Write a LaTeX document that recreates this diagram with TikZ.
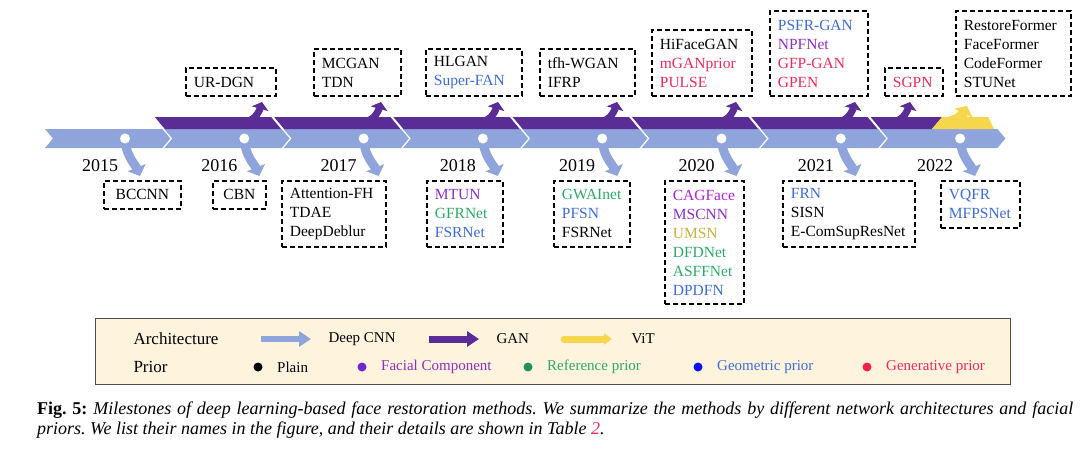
\documentclass[tikz,border=0pt]{standalone}
\usepackage{fontspec}
\setmainfont{Liberation Serif}
\usetikzlibrary{calc,positioning,arrows.meta}
\pgfdeclarelayer{back}
\pgfsetlayers{back,main}

\definecolor{cnnblue}{HTML}{8FA4DA}
\definecolor{ganpurple}{HTML}{5A2C96}
\definecolor{vityellow}{HTML}{F5D64C}
\definecolor{facialc}{HTML}{8E2FC4}
\definecolor{refc}{HTML}{2EA868}
\definecolor{geoc}{HTML}{3E6CD6}
\definecolor{genc}{HTML}{EC2A5C}
\definecolor{umsnc}{HTML}{C8B03C}
\definecolor{legendbg}{HTML}{FEF4DE}

\begin{document}
\frenchspacing
\begin{tikzpicture}[
  x=1pt,y=-1pt,
  method/.style={draw,line width=1.8pt,dash pattern=on 5pt off 3pt,inner xsep=8pt,inner ysep=0pt,
    align=left,font=\fontsize{15.5}{19}\selectfont,minimum height={19pt*#1+9pt}},
  dotnode/.style={circle,fill=white,inner sep=0pt,minimum size=10pt},
  yearlabel/.style={font=\fontsize{18}{20}\selectfont},
  cnndown/.style={cnnblue,line width=9pt,-{Triangle[width=19pt,length=9pt]}},
  ganup/.style={ganpurple,line width=7pt,-{Triangle[width=17pt,length=7pt]}},
  vitup/.style={vityellow,line width=10pt,-{Triangle[width=20pt,length=8pt]}},
  legtitle/.style={anchor=west,font=\fontsize{17}{19}\selectfont},
  legitem/.style={anchor=west,font=\fontsize{15}{17}\selectfont},
  legdot/.style={circle,inner sep=0pt,minimum size=9pt},
  ]
\useasboundingbox (0,0) rectangle (1080,448);

% methods above the timeline
\node (top2016) [method=1,text width=74pt,anchor=south west] at (185,97) {UR-DGN};
\node (top2017) [method=2,text width=71pt,anchor=south west] at (313,97) {MCGAN\\TDN};
\node (top2018) [method=2,text width=80pt,anchor=south west] at (425,97) {HLGAN\\\textcolor{geoc}{Super-FAN}};
\node (top2019) [method=2,text width=79pt,anchor=south west] at (539,97) {tfh-WGAN\\IFRP};
\node (top2020) [method=3,text width=84pt,anchor=south west] at (651,97) {HiFaceGAN\\\textcolor{genc}{mGANprior}\\\textcolor{genc}{PULSE}};
\node (top2021) [method=4,text width=82pt,anchor=south west] at (769,97) {\textcolor{geoc}{PSFR-GAN}\\\textcolor{facialc}{NPFNet}\\\textcolor{genc}{GFP-GAN}\\\textcolor{genc}{GPEN}};
\node (top2022a) [method=1,text width=42pt,anchor=south west] at (884,97) {\textcolor{genc}{SGPN}};
\node (top2022b) [method=4,text width=99pt,anchor=south west] at (955,97) {RestoreFormer\\FaceFormer\\CodeFormer\\STUNet};

% methods below the timeline
\node (bot2015) [method=1,text width=61pt,align=center,anchor=north west] at (103,180) {BCCNN};
\node (bot2016) [method=1,text width=37pt,align=center,anchor=north west] at (212,180) {CBN};
\node (bot2017) [method=3,text width=88pt,anchor=north west] at (281,180) {Attention-FH\\TDAE\\DeepDeblur};
\node (bot2018) [method=3,text width=60pt,anchor=north west] at (426,180) {\textcolor{facialc}{MTUN}\\\textcolor{refc}{GFRNet}\\\textcolor{geoc}{FSRNet}};
\node (bot2019) [method=3,text width=60pt,anchor=north west] at (553,180) {\textcolor{refc}{GWAInet}\\\textcolor{geoc}{PFSN}\\FSRNet};
\node (bot2020) [method=6,text width=63pt,anchor=north west] at (664,180) {\textcolor{facialc!70!magenta}{CAGFace}\\\textcolor{facialc}{MSCNN}\\\textcolor{umsnc}{UMSN}\\\textcolor{refc}{DFDNet}\\\textcolor{refc}{ASFFNet}\\\textcolor{geoc}{DPDFN}};
\node (bot2021) [method=3,text width=116pt,anchor=north west] at (782,180) {\textcolor{geoc}{FRN}\\SISN\\E-ComSupResNet};
\node (bot2022) [method=2,text width=63pt,anchor=north west] at (940,180) {\textcolor{geoc}{VQFR}\\\textcolor{geoc}{MFPSNet}};

\begin{pgfonlayer}{back}
  % deep CNN band
  \foreach \i in {0,...,7}
  {
    \pgfmathsetmacro\xa{44+119.3*\i}
    \pgfmathsetmacro\xb{44+119.3*(\i+1)}
    \fill[cnnblue] (\xa+1,129) -- (\xb-1,129) -- (\xb+7,138.5) -- (\xb-1,148) -- (\xa+1,148) -- (\xa+9,138.5) -- cycle;
  }
  % GAN band
  \foreach \i in {1,...,6}
  {
    \pgfmathsetmacro\xa{44+119.3*\i}
    \pgfmathsetmacro\xb{44+119.3*(\i+1)}
    \fill[ganpurple] (\xa-8.5,117) -- (\xb-11.5,117) -- (\xb-1.5,129) -- (\xa+1.5,129) -- cycle;
  }
  \fill[ganpurple] (44+119.3*7-8.5,117) -- (942,117) -- (932,129) -- (44+119.3*7+1.5,129) -- cycle;
  % ViT band
  \fill[vityellow] (942,117) -- (988,117) -- (994,129) -- (932,129) -- cycle;
\end{pgfonlayer}

\foreach \yr [count=\i from 0] in {2015,...,2022}
{
  \node (d\yr) [dotnode] at (125+119.3*\i,138.5) {};
  \node [yearlabel] at ($(d\yr)+(-25,27)$) {\yr};
  \coordinate (e\yr) at ($(d\yr |- bot\yr.north)+(15,-4)$);
  \begin{pgfonlayer}{back}
    \draw[cnndown] (d\yr) .. controls +(2,18) and +(-4,-10) .. (e\yr);
  \end{pgfonlayer}
}

\foreach \yr/\tx in {2016/262,2017/381,2018/498,2019/617,2020/736,2021/855,2022a/910}
{
  \coordinate (u\yr) at (\tx-15,121);
  \coordinate (t\yr) at ($(u\yr |- top\yr.south)+(15,5)$);
  \begin{pgfonlayer}{back}
    \draw[ganup] (u\yr) .. controls +(9,-1) and +(-2,7) .. (t\yr);
  \end{pgfonlayer}
}
\coordinate (u2022b) at (950,121);
\coordinate (t2022b) at ($(u2022b |- top2022b.south)+(17,9)$);
\begin{pgfonlayer}{back}
  \draw[vitup] (u2022b) .. controls +(10,-1) and +(-3,6) .. (t2022b);
\end{pgfonlayer}

% legend
\node (legend) [draw=black!70,fill=legendbg,line width=1pt,minimum width=915pt,minimum height=66pt,anchor=north west] at (95,318) {};
\node (archlabel) [legtitle] at (130,339) {Architecture};
\node (priorlabel) [legtitle] at (130,367) {Prior};
\node (cnnlabel) [legitem] at (325,339) {Deep CNN};
\node (ganlabel) [legitem] at (493,339) {GAN};
\node (vitlabel) [legitem] at (628,339) {ViT};
\draw[cnnblue,line width=6pt,-{Triangle[width=15pt,length=12pt]}] ($(cnnlabel.west)+(-64,0)$) -- ($(cnnlabel.west)+(-14,0)$);
\draw[ganpurple,line width=7pt,-{Triangle[width=15pt,length=12pt]}] ($(ganlabel.west)+(-64,0)$) -- ($(ganlabel.west)+(-14,0)$);
\draw[vityellow,line width=7pt,line cap=round,-{Triangle[width=11pt,length=8pt]}] ($(vitlabel.west)+(-64,0)$) -- ($(vitlabel.west)+(-16,0)$);

\foreach \name/\dotx/\tcol/\dcol/\txt in {plain/258/black/black/Plain,facial/362/facialc/facialc!80!blue/Facial Component,
  reference/528/refc/refc!85!black/Reference prior,geometric/698/geoc/blue!85!geoc/Geometric prior,generative/867/genc/genc!80!red/Generative prior}
{
  \node (\name dot) [legdot,fill=\dcol] at (\dotx,367) {};
  \node (\name label) [legitem,text=\tcol,right=11pt of \name dot] {\txt};
}

% caption
\node (caption) [anchor=north west,text width=1036pt,align=justify,inner sep=0pt,font=\fontsize{18}{20}\selectfont] at (37,402)
  {\textbf{Fig. 5:} \itshape Milestones of deep learning-based face restoration methods. We summarize the methods by different network architectures and facial\linebreak
   priors. We list their names in the figure, and their details are shown in Table \textcolor{genc}{2}.};

\end{tikzpicture}
\end{document}
